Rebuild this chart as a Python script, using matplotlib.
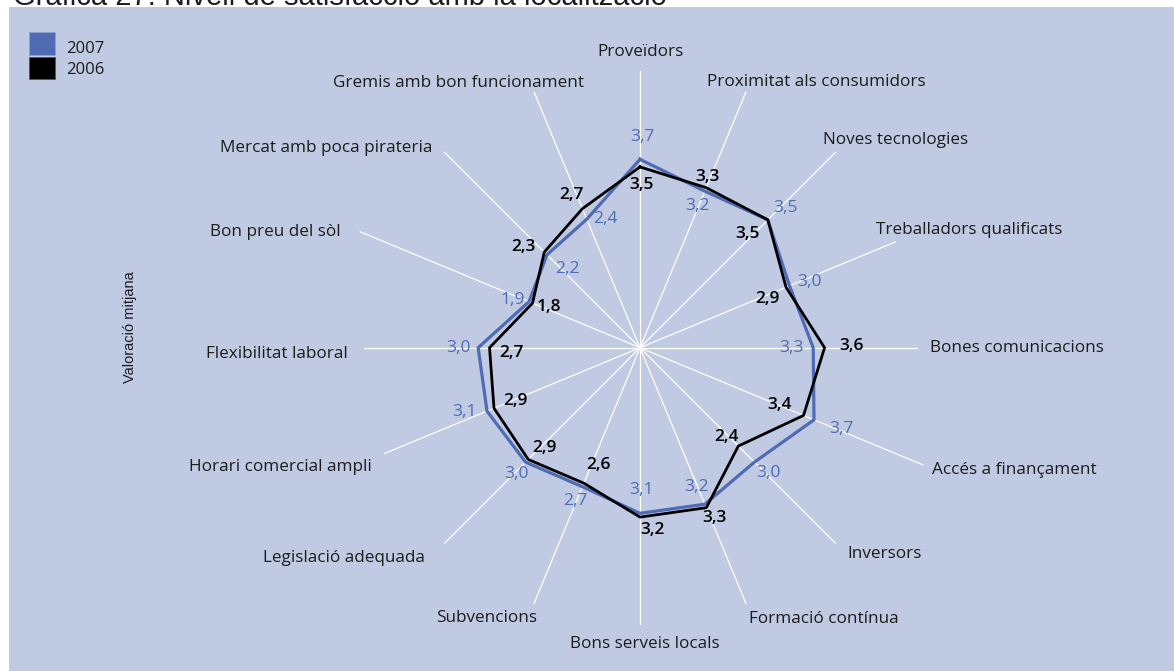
import numpy as np
import matplotlib
matplotlib.use("Agg")
import matplotlib.pyplot as plt
from matplotlib.patches import Rectangle

# ---------------- data ----------------
categories = [
    "Proveïdors", "Proximitat als consumidors", "Noves tecnologies",
    "Treballadors qualificats", "Bones comunicacions", "Accés a finançament",
    "Inversors", "Formació contínua", "Bons serveis locals", "Subvencions",
    "Legislació adequada", "Horari comercial ampli", "Flexibilitat laboral",
    "Bon preu del sòl", "Mercat amb poca pirateria", "Gremis amb bon funcionament",
]
values_2007 = [3.7, 3.2, 3.5, 3.0, 3.3, 3.7, 3.0, 3.2, 3.1, 2.7, 3.0, 3.1, 3.0, 1.9, 2.2, 2.4]
values_2006 = [3.5, 3.3, 3.5, 2.9, 3.6, 3.4, 2.4, 3.3, 3.2, 2.6, 2.9, 2.9, 2.7, 1.8, 2.3, 2.7]
series_names = ["2007", "2006"]
title = "Gràfica 27. Nivell de satisfacció amb la localització"
ylabel = "Valoració mitjana"

# ---------------- style / layout ----------------
W, H = 1174, 671
BG = "#C1CAE3"
BLUE = "#4E6BB4"
DARK = "#1C1C1C"
FONT = ["Open Sans", "DejaVu Sans"]

R0 = -1.27        # radial value at the centre
K = 37.9          # pixels per radial unit
CX, CY = 640.0, 347.7
RAD_PX = 310.0

spoke_px = [276.5] * 16
spoke_px[5] = 306.0
spoke_px[13] = 303.0

# label anchors (pixel coords from top-left) and alignment
cat_pos = [
    (640.7, 56.0, "center"), (707.4, 86.5, "left"), (822.8, 144.5, "left"),
    (875.5, 234.5, "left"), (930.2, 351.5, "left"), (932.0, 474.5, "left"),
    (846.9, 558.5, "left"), (749.4, 623.0, "left"), (644.8, 648.0, "center"),
    (536.7, 622.5, "right"), (424.4, 562.0, "right"), (372.0, 471.0, "right"),
    (347.3, 358.0, "right"), (341.0, 235.5, "right"), (432.3, 151.5, "right"),
    (583.9, 87.0, "right"),
]
# value label offsets from the data points (pixels, +y downwards)
off_2007 = [(2, -22.4), (-7, 15), (18, -11.7), (20.4, -3.8), (-21.7, 0.8), (27.2, 9),
            (14.1, 10.6), (-8.8, -17), (1.3, -23.8), (-6.9, 13.8), (-9.1, 11.4),
            (-22.7, 0.7), (-20, -0.2), (-15.9, -2), (20.2, 14.5), (18.5, 0.3)]
off_2006 = [(1.7, 17.7), (1.7, -11), (-20, 13.8), (-18.2, 11.8), (26.5, -1.7),
            (-23.8, -10.7), (-12, -9), (7.8, 10.6), (12.6, 12.5), (14.3, -18.7),
            (16.3, -11.4), (21, -7), (22.4, 5.3), (16, 3.5), (-21.1, -4.7), (-11.4, -13.3)]


def fx(x):
    return x / W


def fy(y):
    return 1 - y / H


fig = plt.figure(figsize=(W / 100, H / 100), dpi=100)
fig.patch.set_facecolor("white")
fig.add_artist(Rectangle((fx(9), 0), 1 - fx(9), fy(7), transform=fig.transFigure,
                         facecolor=BG, edgecolor="none", zorder=0))

# title: only its lower part is visible above the panel, as in the reference
fig.text(fx(13), fy(5), title, fontsize=21, family=["Liberation Sans", "DejaVu Sans"],
         color=DARK, ha="left", va="baseline", zorder=-1)

# legend
fig.add_artist(Rectangle((fx(29.3), fy(55)), fx(25.7), 23 / H, transform=fig.transFigure,
                         facecolor=BLUE, edgecolor="#8FA2D2", lw=0.6, zorder=2))
fig.add_artist(Rectangle((fx(29.3), fy(79.3)), fx(25.7), 22 / H, transform=fig.transFigure,
                         facecolor="black", edgecolor="#555555", lw=0.6, zorder=2))
fig.text(fx(66), fy(52.7), series_names[0], fontsize=12, family=FONT, color=DARK, va="baseline")
fig.text(fx(66), fy(73.8), series_names[1], fontsize=12, family=FONT, color=DARK, va="baseline")

fig.text(fx(130), fy(327), ylabel, rotation=90, fontsize=10.5,
         family=["Liberation Sans", "DejaVu Sans"], color=DARK, ha="center", va="center")

# polar axes
ax = fig.add_axes([fx(CX - RAD_PX), (H - CY - RAD_PX) / H, 2 * RAD_PX / W, 2 * RAD_PX / H],
                  projection="polar")
ax.set_theta_zero_location("N")
ax.set_theta_direction(-1)
ax.set_ylim(R0, R0 + RAD_PX / K)
ax.axis("off")

n = len(categories)
theta = np.arange(n) * 2 * np.pi / n

for i in range(n):
    ax.plot([theta[i], theta[i]], [R0, R0 + spoke_px[i] / K], color="white", lw=0.9,
            zorder=1, clip_on=False)

th_c = np.append(theta, theta[0])
ax.plot(th_c, values_2007 + values_2007[:1], color=BLUE, lw=2.3, zorder=3, clip_on=False)
ax.plot(th_c, values_2006 + values_2006[:1], color="black", lw=2.0, zorder=4, clip_on=False)


def fmt(v):
    return f"{v:.1f}".replace(".", ",")


for i in range(n):
    dx, dy = off_2007[i]
    ax.annotate(fmt(values_2007[i]), xy=(theta[i], values_2007[i]), xytext=(dx, -dy),
                textcoords="offset pixels", ha="center", va="center", fontsize=12.5,
                family=FONT, color=BLUE, zorder=5, annotation_clip=False)
    dx, dy = off_2006[i]
    ax.annotate(fmt(values_2006[i]), xy=(theta[i], values_2006[i]), xytext=(dx, -dy),
                textcoords="offset pixels", ha="center", va="center", fontsize=12.5,
                family=FONT, color="black", fontweight="semibold", zorder=5,
                annotation_clip=False)

for i, (x, y, ha) in enumerate(cat_pos):
    fig.text(fx(x), fy(y), categories[i], fontsize=12.3, family=FONT, color=DARK,
             ha=ha, va="baseline")

fig.savefig("out.png", dpi=100, facecolor=fig.get_facecolor())
